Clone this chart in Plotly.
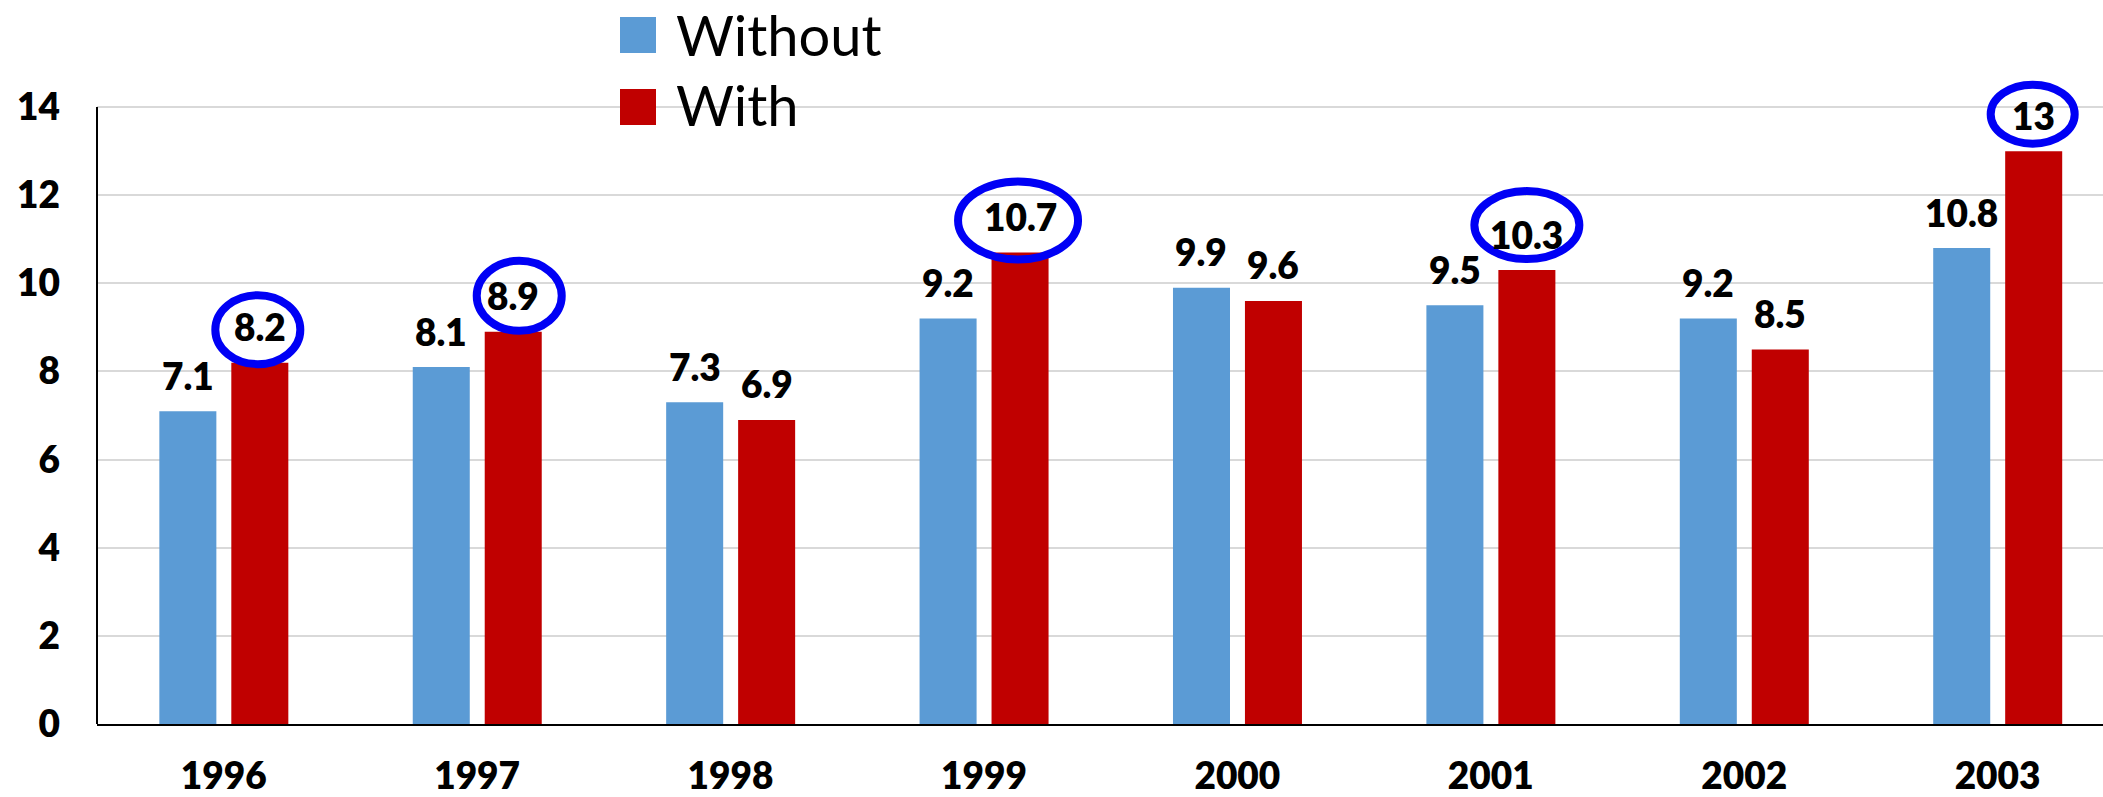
import plotly.graph_objects as go

# ---- data -------------------------------------------------------------
years = ["1996", "1997", "1998", "1999", "2000", "2001", "2002", "2003"]
without_vals = [7.1, 8.1, 7.3, 9.2, 9.9, 9.5, 9.2, 10.8]
with_vals = [8.2, 8.9, 6.9, 10.7, 9.6, 10.3, 8.5, 13]
series_names = ["Without", "With"]
y_ticks = [0, 2, 4, 6, 8, 10, 12, 14]
highlighted_years = ["1996", "1997", "1999", "2001", "2003"]

# ---- styling ----------------------------------------------------------
BLUE = "#5B9BD5"
RED = "#C00000"
RING = "#0000F5"
FONT = "Lato"
LABEL_WEIGHT = 800

W, H = 2103, 797
M_L, M_R, M_T, M_B = 97, 0, 63, 73
PLOT_W = W - M_L - M_R
PLOT_H = H - M_T - M_B
Y_TOP = 15  # headroom above the last gridline for the top ring

BAR_W = 0.225
OFF_LEFT = -0.254
OFF_RIGHT = 0.030
CENTER_LEFT = OFF_LEFT + BAR_W / 2
CENTER_RIGHT = OFF_RIGHT + BAR_W / 2

RING_LW = 8
# hand-drawn rings: (outer width px, outer height px, dx px, dy px above bar top)
ring_style = {
    "1996": (93, 77, -2, 33),
    "1997": (93, 78, 6, 36),
    "1999": (128, 86, -2, 32),
    "2001": (113, 76, 0, 45),
    "2003": (92, 67, -1, 37),
}


def px_x(px):
    return (px - M_L) / PLOT_W


def px_y(py):
    return (H - M_B - py) / PLOT_H


idx = list(range(len(years)))

fig = go.Figure()
fig.add_trace(go.Bar(x=idx, y=without_vals, name=series_names[0],
                     marker=dict(color=BLUE, line=dict(width=0)),
                     width=BAR_W, offset=OFF_LEFT, showlegend=False))
fig.add_trace(go.Bar(x=idx, y=with_vals, name=series_names[1],
                     marker=dict(color=RED, line=dict(width=0)),
                     width=BAR_W, offset=OFF_RIGHT, showlegend=False))

annotations = []
for i in idx:
    for val, c in ((without_vals[i], CENTER_LEFT), (with_vals[i], CENTER_RIGHT)):
        annotations.append(dict(
            x=i + c, y=val, xref="x", yref="y", text=f"{val:g}",
            showarrow=False, yanchor="middle", xanchor="center", yshift=36,
            font=dict(family=FONT, size=37, color="black", weight=LABEL_WEIGHT)))

shapes = []
# vertical axis line, running only from 0 up to the top gridline
shapes.append(dict(type="line", xref="paper", yref="y", x0=0, x1=0,
                   y0=0, y1=y_ticks[-1], layer="above",
                   line=dict(color="black", width=2)))

for yr in highlighted_years:
    i = years.index(yr)
    w, h, dx, dy = ring_style[yr]
    w -= RING_LW
    h -= RING_LW
    shapes.append(dict(
        type="circle", layer="above",
        xref="x", yref="y", xsizemode="pixel", ysizemode="pixel",
        xanchor=i + CENTER_RIGHT, yanchor=with_vals[i],
        x0=dx - w / 2, x1=dx + w / 2, y0=dy - h / 2, y1=dy + h / 2,
        line=dict(color=RING, width=RING_LW), fillcolor="rgba(0,0,0,0)"))

# legend: colour squares with labels
legend_rows = [(series_names[0], BLUE, 17, 53, 34), (series_names[1], RED, 89, 125, 105)]
for name, col, top, bot, mid in legend_rows:
    shapes.append(dict(type="rect", xref="paper", yref="paper", layer="above",
                       x0=px_x(620), x1=px_x(656), y0=px_y(bot), y1=px_y(top),
                       fillcolor=col, line=dict(width=0)))
    annotations.append(dict(x=px_x(675), y=px_y(mid), xref="paper", yref="paper",
                            text=name, showarrow=False, xanchor="left",
                            yanchor="middle", borderpad=0,
                            font=dict(family=FONT, size=56, color="black")))

fig.update_layout(
    width=W, height=H,
    margin=dict(l=M_L, r=M_R, t=M_T, b=M_B, pad=0),
    paper_bgcolor="white", plot_bgcolor="white",
    barmode="overlay",
    annotations=annotations, shapes=shapes,
    xaxis=dict(
        range=[-0.5, 7.416], tickmode="array", tickvals=idx, ticktext=years,
        showgrid=False, zeroline=False, ticks="", automargin=False,
        showline=True, linecolor="black", linewidth=2,
        tickfont=dict(family=FONT, size=37, color="black", weight=LABEL_WEIGHT),
        ticklabelstandoff=19,
    ),
    yaxis=dict(
        range=[0, Y_TOP], tickmode="array", tickvals=y_ticks,
        showgrid=True, gridcolor="#D9D9D9", gridwidth=2,
        zeroline=False, ticks="", automargin=False, showline=False,
        tickfont=dict(family=FONT, size=37, color="black", weight=LABEL_WEIGHT),
        ticklabelstandoff=36,
    ),
)

fig.write_html("out.html")
